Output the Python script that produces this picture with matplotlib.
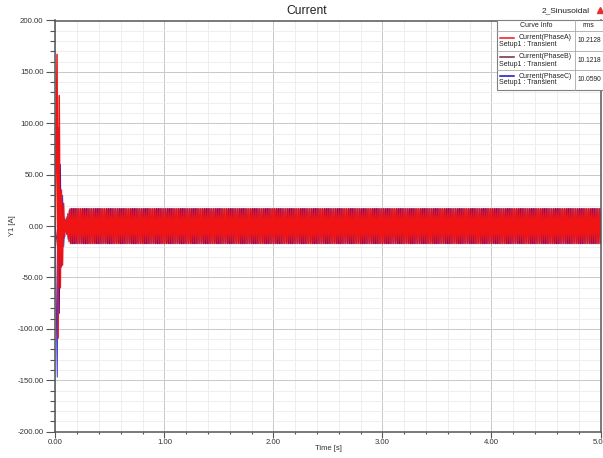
import numpy as np
import matplotlib.pyplot as plt
from matplotlib.patches import Rectangle
from matplotlib.ticker import MultipleLocator, FormatStrFormatter

plt.rcParams['font.family'] = ['Liberation Sans', 'DejaVu Sans']

# supply frequency (Hz) - peaks are stored one per half cycle
freq = 50.0
t_end = 5.0

# start-up peaks (A), one per half cycle
trans_a = [0, 167, -109, 127, -60, 35, -38, 22, -10, 6, -8, 12, -15]
trans_b = [0, -20, 13, -42, 25, -30, 20, -12, 6, -5, 9, -12, 16]
trans_c = [0, -147, 96, -85, 60, -40, 30, -20, 8, -6, 9, -13, 15]

# steady state peak amplitude (A)
peak_a = 16.8
peak_b = 16.8
peak_c = 17.3

names = ["Current(PhaseA)", "Current(PhaseB)", "Current(PhaseC)"]
rms = ["10.2128", "10.1218", "10.0590"]
colors = ["#f01414", "#6e2a3c", "#1010d0"]


def series(trans, peak, shift):
    n = int(t_end * 2 * freq) + 1
    steady = np.resize([peak, -peak], n - len(trans) + 1)
    if trans[-1] > 0:
        steady = -steady
    vals = np.concatenate([trans, steady[:n - len(trans)]])
    t = np.arange(n) / (2 * freq) + shift
    t[0] = 0.0
    return t, vals


fig = plt.figure(figsize=(6.03, 4.58), dpi=100)
W, H = 603.0, 458.0
x0, x1, y0, y1 = 55.4, 600.5, 20.5, 431.7
ax = fig.add_axes([x0 / W, 1 - y1 / H, (x1 - x0) / W, (y1 - y0) / H])

ta, va = series(trans_a, peak_a, 0.005)
tb, vb = series(trans_b, peak_b, 0.0083)
tc, vc = series(trans_c, peak_c, 0.0067)
ax.plot(tb, vb, color=colors[1], lw=0.7)
ax.plot(tc, vc, color=colors[2], lw=0.6)
ax.plot(ta, va, color=colors[0], lw=1.1)

ax.set_xlim(0, 5)
ax.set_ylim(-200, 200)
ax.xaxis.set_major_locator(MultipleLocator(1))
ax.xaxis.set_minor_locator(MultipleLocator(0.2))
ax.yaxis.set_major_locator(MultipleLocator(50))
ax.yaxis.set_minor_locator(MultipleLocator(10))
ax.xaxis.set_major_formatter(FormatStrFormatter('%.2f'))
ax.yaxis.set_major_formatter(FormatStrFormatter('%.2f'))
ax.grid(True, which='major', color='#c8c8c8', lw=0.7)
ax.grid(True, which='minor', color='#ebebeb', lw=0.6)
ax.set_axisbelow(True)
for s in ax.spines.values():
    s.set_color('#555555')
    s.set_linewidth(1.1)
ax.tick_params(axis='y', which='major', length=6.5, width=0.8, pad=2,
               labelsize=5.6, color='#555555', labelcolor='#333333')
ax.tick_params(axis='y', which='minor', length=3.3, width=0.8, color='#555555')
ax.tick_params(axis='x', which='major', length=4, width=0.8, pad=1.5,
               labelsize=5.6, color='#555555', labelcolor='#333333')
ax.tick_params(axis='x', which='minor', length=1.5, width=0.8, color='#555555')

# overlay in pixel coordinates for the header texts and the curve table
ov = fig.add_axes([0, 0, 1, 1], zorder=10)
ov.set_xlim(0, W)
ov.set_ylim(H, 0)
ov.axis('off')
ov.patch.set_alpha(0)

ov.text(307, 11, "Current", ha='center', va='center', fontsize=8.7, color='#222222')
ov.text(566, 11, "2_Sinusoidal", ha='center', va='center', fontsize=6, color='#222222')
ov.plot([600], [9.5], marker='^', color='#e03030', ms=4.5, clip_on=False)
ov.text(13, 226, "Y1 [A]", ha='center', va='center', rotation=90, fontsize=5.5, color='#333333')
ov.text(328, 449, "Time [s]", ha='center', va='center', fontsize=5.5, color='#333333')

bx, bt, bb = 497, 20, 90
ov.add_patch(Rectangle((bx, bt), 120, bb - bt, fc='white', ec='#808080', lw=0.8, clip_on=False))
ov.plot([574.5, 574.5], [bt, bb], color='#a8a8a8', lw=0.6)
rows = [31, 50.5, 69.5, bb]
for r in rows[:-1]:
    ov.plot([bx, 610], [r, r], color='#a8a8a8', lw=0.6, clip_on=False)
ov.text(536, 25.5, "Curve Info", ha='center', va='center', fontsize=5, color='#222222')
ov.text(588, 25.5, "rms", ha='center', va='center', fontsize=5, color='#222222')
for i in range(3):
    top, bot = rows[i], rows[i + 1]
    ov.plot([500, 514], [top + 6.5, top + 6.5], color=colors[i], lw=1.1)
    ov.text(572, top + 6.5, names[i], ha='right', va='center', fontsize=5, color='#222222')
    ov.text(499, top + 13.5, "Setup1 : Transient", ha='left', va='center', fontsize=5, color='#222222')
    ov.text(577.5, (top + bot) / 2, rms[i], ha='left', va='center', fontsize=4.8, color='#222222')

fig.savefig("out.png", dpi=100)
